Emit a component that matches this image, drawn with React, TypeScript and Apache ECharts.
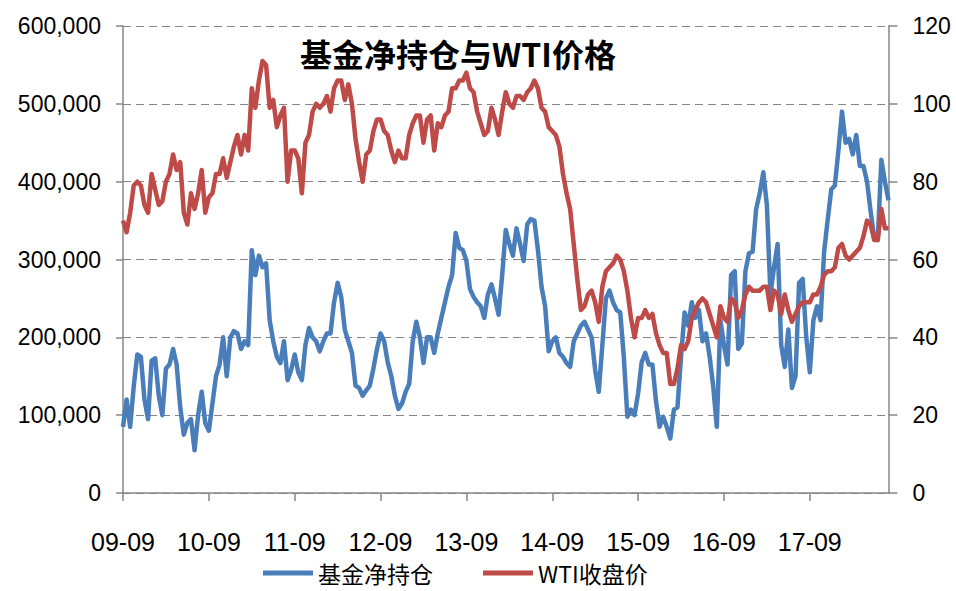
import React, { useEffect, useRef } from "react";
import * as echarts from "echarts";

// Half-month observations, Sep 2009 .. Aug 2018 (215 points)
const tickLabels = ["09-09", "10-09", "11-09", "12-09", "13-09", "14-09", "15-09", "16-09", "17-09"];

// 基金净持仓 (thousand contracts)
const fundNetLong: number[] = [
  85, 120, 85, 137, 178, 175, 120, 95, 170, 173, 125, 100, 160, 165, 185, 165, 110, 75, 90, 95, 55, 100, 130, 90, 80, 115, 150,
  165, 200, 150, 200, 208, 205, 185, 195, 190, 312, 280, 305, 290, 295, 222, 195, 175, 167, 195, 145, 158, 178, 155, 145, 190, 212, 200,
  195, 182, 195, 205, 205, 245, 270, 252, 210, 195, 180, 138, 135, 125, 132, 138, 160, 185, 205, 195, 168, 150, 125, 108, 115, 130, 140,
  195, 220, 200, 167, 200, 200, 180, 205, 225, 245, 265, 280, 334, 315, 312, 298, 262, 252, 245, 240, 225, 255, 268, 250, 229, 280, 338,
  320, 305, 340, 320, 298, 345, 352, 350, 312, 265, 240, 182, 195, 200, 180, 175, 167, 162, 195, 205, 215, 220, 210, 200, 158, 130, 190,
  250, 260, 245, 235, 232, 175, 98, 107, 100, 128, 168, 180, 165, 165, 118, 85, 98, 85, 70, 107, 110, 175, 232, 215, 245, 225, 235,
  195, 205, 175, 137, 85, 222, 190, 165, 280, 285, 185, 192, 285, 308, 310, 365, 385, 412, 370, 255, 290, 320, 190, 162, 210, 135, 150,
  270, 275, 201, 155, 222, 240, 222, 310, 351, 390, 395, 440, 490, 450, 455, 435, 460, 420, 420, 400, 362, 328, 325, 428, 400, 376,
];

// WTI收盘价 (USD/bbl)
const wtiClose: number[] = [
  70, 67, 72, 79, 80, 79, 74, 72, 82, 78, 74, 75, 80, 82, 87, 83, 85, 72, 69, 77, 73, 77, 83, 72, 76, 77, 82,
  82, 86, 81, 85, 89, 92, 87, 92, 88, 104, 99, 106, 111, 110, 99, 101, 94, 97, 99, 80, 88, 88, 86, 77, 90, 92, 98,
  100, 99, 100, 102, 98, 104, 106, 106, 101, 105, 100, 91, 85, 80, 87, 88, 93, 96, 96, 93, 92, 88, 85, 88, 86, 86, 92,
  95, 97, 97, 90, 96, 97, 88, 95, 94, 97, 98, 104, 104, 106, 106, 108, 104, 103, 98, 95, 92, 93, 99, 96, 92, 98, 103,
  100, 99, 102, 102, 101, 103, 104, 106, 104, 99, 98, 94, 93, 92, 89, 82, 77, 73, 64, 55, 47, 48, 51, 52, 49, 44, 53,
  57, 58, 59, 61, 60, 57, 52, 45, 40, 45, 45, 47, 45, 46, 41, 38, 36, 36, 28, 28, 32, 38, 37, 39, 45, 47, 49,
  50, 49, 46, 43, 40, 48, 45, 44, 50, 49, 45, 47, 51, 53, 52, 52, 52, 53, 53, 47, 52, 51, 46, 51, 47, 44, 46,
  48, 49, 49, 49, 51, 51, 53, 56, 57, 57, 58, 63, 64, 61, 60, 61, 62, 63, 66, 70, 69, 65, 65, 73, 68, 68,
];

const categories: string[] = fundNetLong.map((_, i) => {
  const m = 8 + Math.floor(i / 2);
  const y = 2009 + Math.floor(m / 12);
  const mm = (m % 12) + 1;
  return `${String(y % 100).padStart(2, "0")}-${String(mm).padStart(2, "0")}${i % 2 ? "b" : "a"}`;
});

const BLUE = "#4A7EBB";
const RED = "#BE4B48";
const AXIS = "#868686";

export default function App() {
  const ref = useRef<HTMLDivElement>(null);
  useEffect(() => {
    if (!ref.current) return;
    const chart = echarts.init(ref.current, null, { renderer: "svg" });
    const showIdx = (idx: number) => idx % 24 === 0;
    chart.setOption({
      animation: false,
      backgroundColor: "#ffffff",
      graphic: [
        {
          type: "text",
          x: 458,
          y: 53,
          style: {
            text: "基金净持仓与WTI价格",
            font: 'bold 32px "Noto Sans CJK SC"',
            fill: "#000",
            textAlign: "center",
            textVerticalAlign: "middle",
          },
          z: 10,
        },
      ],
      legend: {
        left: 263,
        top: 561,
        padding: 0,
        itemWidth: 50,
        itemHeight: 5,
        itemGap: 50,
        icon: "rect",
        textStyle: { fontSize: 23, lineHeight: 24, fontFamily: '"Noto Sans CJK SC"', color: "#000" },
        data: ["基金净持仓", "WTI收盘价"],
      },
      grid: { left: 123, right: 67.5, top: 26, bottom: 98, containLabel: false },
      xAxis: {
        type: "category",
        data: categories,
        boundaryGap: false,
        axisLine: { lineStyle: { color: AXIS, width: 1.5 } },
        axisTick: { show: true, interval: showIdx, length: 8, lineStyle: { color: AXIS, width: 1.5 } },
        axisLabel: {
          interval: showIdx,
          margin: 36,
          fontSize: 25,
          fontFamily: '"Liberation Sans"',
          color: "#000",
          formatter: (_v: string, idx: number) => tickLabels[idx / 24] ?? "",
        },
        splitLine: { show: false },
      },
      yAxis: [
        {
          type: "value",
          min: 0,
          max: 600000,
          interval: 100000,
          axisLine: { show: true, lineStyle: { color: AXIS, width: 1.5 } },
          axisTick: { show: true, length: 7, lineStyle: { color: AXIS, width: 1.5 } },
          axisLabel: {
            margin: 22,
            fontSize: 23,
            fontFamily: '"Liberation Sans"',
            color: "#000",
            formatter: (v: number) => v.toLocaleString("en-US"),
          },
          splitLine: { show: true, lineStyle: { color: AXIS, width: 1.2, type: [8, 5] } },
        },
        {
          type: "value",
          min: 0,
          max: 120,
          interval: 20,
          position: "right",
          axisLine: { show: true, lineStyle: { color: AXIS, width: 1.5 } },
          axisTick: { show: true, length: 9, lineStyle: { color: AXIS, width: 1.5 } },
          axisLabel: {
            margin: 24,
            fontSize: 23,
            fontFamily: '"Liberation Sans"',
            color: "#000",
          },
          splitLine: { show: false },
        },
      ],
      series: [
        {
          name: "基金净持仓",
          type: "line",
          yAxisIndex: 0,
          data: fundNetLong.map((v) => v * 1000),
          showSymbol: false,
          symbol: "none",
          lineStyle: { color: BLUE, width: 4.5, join: "round" },
          itemStyle: { color: BLUE },
          z: 2,
        },
        {
          name: "WTI收盘价",
          type: "line",
          yAxisIndex: 1,
          data: wtiClose,
          showSymbol: false,
          symbol: "none",
          lineStyle: { color: RED, width: 4.5, join: "round" },
          itemStyle: { color: RED },
          z: 3,
        },
      ],
    });
    return () => chart.dispose();
  }, []);
  return (
    <div
      ref={ref}
      style={{ position: "fixed", left: 0, top: 0, width: 956, height: 591, background: "#fff" }}
    />
  );
}
